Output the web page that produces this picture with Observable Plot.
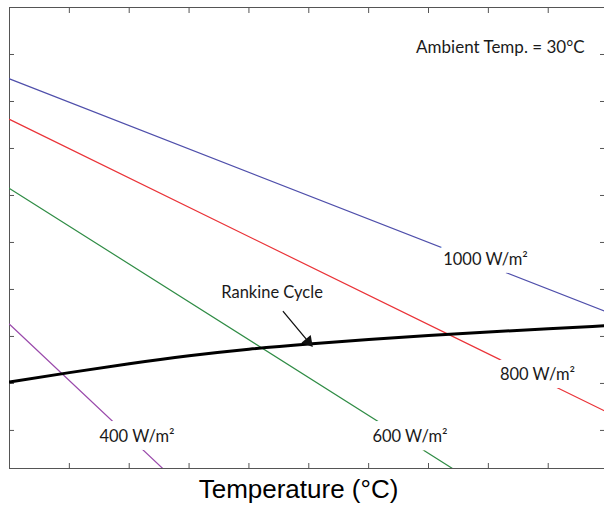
<!DOCTYPE html>
<html><head><meta charset="utf-8">
<script src="https://cdn.jsdelivr.net/npm/d3@7"></script>
<script src="https://cdn.jsdelivr.net/npm/@observablehq/plot@0.6"></script>
<style>body{margin:0;background:#fff}</style>
</head><body><div id="chart"></div>
<script>
// Rankine cycle efficiency vs temperature
const temps = [0, 50, 100, 150, 200, 250, 300, 350, 400, 450, 500];
const rankine = [10.3, 12.3, 14.2, 15.9, 17.3, 18.4, 19.35, 20.2, 20.95, 21.65, 22.3];

// Collector efficiency lines (straight), per irradiance
const irradiance = ["1000 W/m²", "800 W/m²", "600 W/m²", "400 W/m²"];
const startT = [0, 0, 0, 0];
const startEff = [74.8, 66.2, 51.5, 22.6];
const endT = [500, 500, 370, 128];
const endEff = [25.1, 3.8, -8.1, -8.1];

// Label anchors (data space)
const labelT = [397.6, 441, 334.5, 106.5];
const labelEff = [36.3, 11.8, -1.4, -1.4];

// Tick values
const xTicks = [0, 50, 100, 150, 200, 250, 300, 350, 400, 450];
const yTicks = [0, 10, 20, 30, 40, 50, 60, 70, 80, 90];

// Annotations
const ambientText = ["Ambient Temp. = 30°C"];
const ambientPos = [410, 81.4];
const rankineText = ["Rankine Cycle"];
const rankinePos = [219.3, 29.2];
const arrowFrom = [228.7, 25.3];
const arrowTo = [249.6, 18.9];
const xTitle = ["Temperature (°C)"];
const xTitlePos = [241.4];

const collector = irradiance.flatMap((g, i) => [
  {g, T: startT[i], eff: startEff[i]},
  {g, T: endT[i], eff: endEff[i]}
]);
const rankineData = temps.map((T, i) => ({T, eff: rankine[i]}));
const labels = irradiance.map((g, i) => ({g, T: labelT[i], eff: labelEff[i]}));

const axisStyle = {tickSize: 5, tickFormat: () => "", label: null, stroke: "#555"};

const chart = Plot.plot({
  width: 604,
  height: 514,
  marginTop: 7,
  marginLeft: 9,
  marginRight: 0,
  marginBottom: 46,
  x: {domain: [0, 497]},
  y: {domain: [-8.1, 90]},
  color: {domain: irradiance, range: ["#4f4fab", "#ea3338", "#2f8c45", "#9a4aab"]},
  marks: [
    Plot.frame({stroke: "#555"}),
    Plot.axisX({...axisStyle, ticks: xTicks, anchor: "bottom", dy: -5}),
    Plot.axisX({...axisStyle, ticks: xTicks, anchor: "top", dy: 5}),
    Plot.axisY({...axisStyle, ticks: yTicks, anchor: "left", dx: 5}),
    Plot.axisY({...axisStyle, ticks: yTicks, anchor: "right", dx: -5}),
    Plot.line(collector, {x: "T", y: "eff", z: "g", stroke: "g", strokeWidth: 1.2, clip: true}),
    Plot.line(rankineData, {x: "T", y: "eff", stroke: "#000", strokeWidth: 3, curve: "natural", clip: true}),
    Plot.text(labels, {x: "T", y: "eff", text: "g", fill: "#1a1a1a", stroke: "white", strokeWidth: 16,
      fontFamily: "Lato", fontSize: 16.5}),
    Plot.text(rankineText, {x: () => rankinePos[0], y: () => rankinePos[1], text: d => d, fill: "#1a1a1a",
      fontFamily: "Lato", fontSize: 16.5}),
    Plot.arrow([0], {x1: () => arrowFrom[0], y1: () => arrowFrom[1], x2: () => arrowTo[0], y2: () => arrowTo[1],
      stroke: "#111", strokeWidth: 1.3, headLength: 0}),
    Plot.dot([0], {x: () => arrowTo[0], y: () => arrowTo[1], symbol: "triangle", r: 4.5, fill: "#111", rotate: 140}),
    Plot.text(ambientText, {x: () => ambientPos[0], y: () => ambientPos[1], text: d => d, fill: "#1a1a1a",
      fontFamily: "Lato", fontSize: 17}),
    Plot.text(xTitle, {x: () => xTitlePos[0], frameAnchor: "bottom", dy: 29, text: d => d, fill: "#000",
      fontFamily: "Liberation Sans, Arial, sans-serif", fontSize: 26})
  ]
});
document.getElementById("chart").appendChild(chart);
</script>
</body></html>
